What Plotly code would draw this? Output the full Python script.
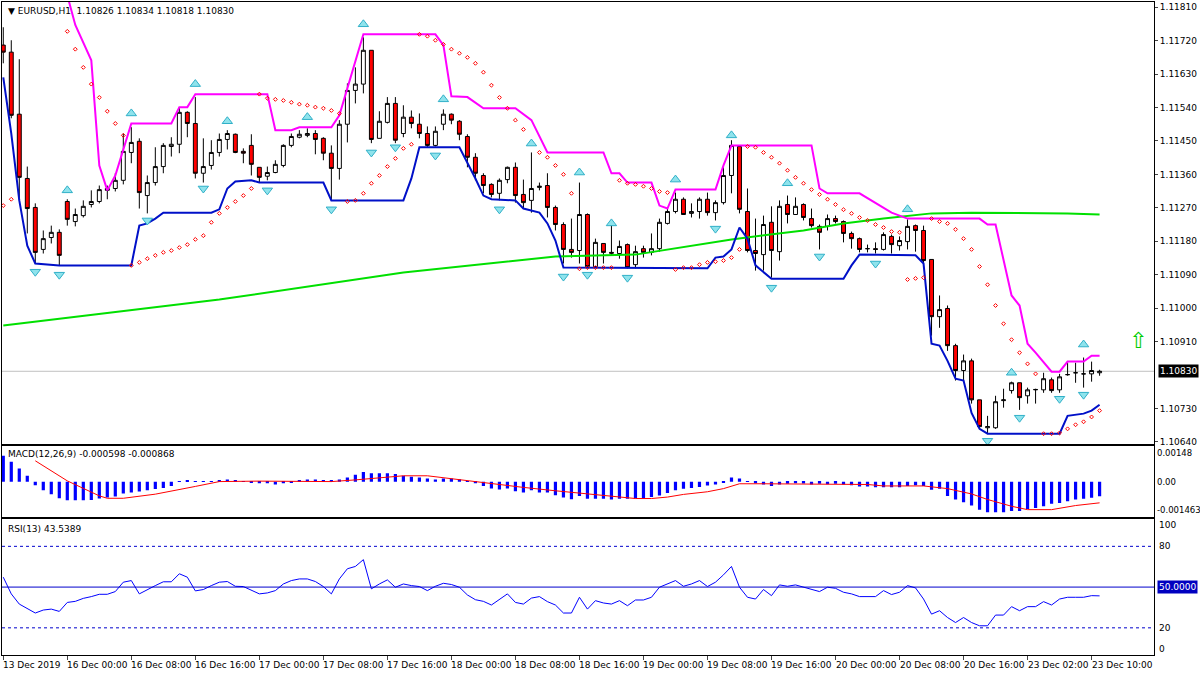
import plotly.graph_objects as go

opens = [1.11708,1.11689,1.11522,1.11349,1.11271,1.11158,1.11190,1.11204,1.11287,1.11233,
1.11249,1.11279,1.11287,1.11317,1.11322,1.11344,1.11419,1.11449,1.11303,1.11338,
1.11381,1.11435,1.11441,1.11527,1.11497,1.11363,1.11384,1.11419,1.11454,1.11468,
1.11422,1.11438,1.11379,1.11355,1.11365,1.11384,1.11438,1.11460,1.11465,1.11470,
1.11457,1.11417,1.11376,1.11495,1.11586,1.11603,1.11694,1.11457,1.11500,1.11551,
1.11470,1.11514,1.11495,1.11470,1.11438,1.11495,1.11522,1.11503,1.11462,1.11406,
1.11357,1.11333,1.11309,1.11346,1.11379,1.11306,1.11290,1.11325,1.11330,1.11271,
1.11225,1.11158,1.11155,1.11252,1.11112,1.11174,1.11150,1.11147,1.11171,1.11117,
1.11160,1.11150,1.11160,1.11228,1.11260,1.11293,1.11255,1.11260,1.11293,1.11257,
1.11284,1.11357,1.11435,1.11260,1.11155,1.11144,1.11231,1.11152,1.11279,1.11252,
1.11279,1.11241,1.11220,1.11220,1.11241,1.11233,1.11201,1.11187,1.11160,1.11160,
1.11158,1.11193,1.11168,1.11179,1.11222,1.11209,1.11131,1.10977,1.10999,1.10899,
1.10832,1.10858,1.10753,1.10678,1.10678,1.10751,1.10778,1.10799,1.10764,1.10780,
1.10780,1.10807,1.10780,1.10821,1.10826,1.10823,1.10823,1.10826]
highs = [1.11756,1.11721,1.11670,1.11381,1.11282,1.11209,1.11222,1.11212,1.11293,1.11268,
1.11290,1.11317,1.11330,1.11330,1.11363,1.11470,1.11487,1.11457,1.11357,1.11433,
1.11444,1.11460,1.11541,1.11530,1.11568,1.11457,1.11452,1.11470,1.11479,1.11470,
1.11430,1.11468,1.11379,1.11381,1.11398,1.11441,1.11470,1.11479,1.11484,1.11479,
1.11460,1.11438,1.11506,1.11605,1.11648,1.11729,1.11694,1.11530,1.11568,1.11568,
1.11546,1.11532,1.11524,1.11489,1.11489,1.11535,1.11524,1.11506,1.11468,1.11417,
1.11363,1.11336,1.11349,1.11381,1.11392,1.11346,1.11419,1.11338,1.11363,1.11276,
1.11231,1.11241,1.11338,1.11255,1.11187,1.11174,1.11228,1.11182,1.11174,1.11168,
1.11168,1.11201,1.11241,1.11268,1.11311,1.11298,1.11282,1.11298,1.11311,1.11290,
1.11379,1.11452,1.11435,1.11322,1.11241,1.11249,1.11274,1.11290,1.11303,1.11298,
1.11282,1.11268,1.11225,1.11252,1.11249,1.11236,1.11206,1.11190,1.11171,1.11177,
1.11204,1.11198,1.11193,1.11239,1.11225,1.11222,1.11131,1.11034,1.11007,1.10904,
1.10875,1.10864,1.10753,1.10710,1.10764,1.10783,1.10802,1.10799,1.10786,1.10783,
1.10826,1.10813,1.10823,1.10853,1.10853,1.10867,1.10856,1.10834]
lows = [1.11659,1.11511,1.11290,1.11201,1.11120,1.11147,1.11174,1.11115,1.11222,1.11220,
1.11244,1.11271,1.11282,1.11293,1.11314,1.11333,1.11390,1.11268,1.11255,1.11330,
1.11363,1.11408,1.11417,1.11460,1.11349,1.11338,1.11373,1.11408,1.11427,1.11417,
1.11390,1.11357,1.11338,1.11344,1.11363,1.11379,1.11433,1.11457,1.11460,1.11414,
1.11398,1.11290,1.11346,1.11446,1.11551,1.11578,1.11444,1.11457,1.11497,1.11444,
1.11460,1.11484,1.11457,1.11433,1.11435,1.11479,1.11495,1.11452,1.11379,1.11344,
1.11309,1.11298,1.11290,1.11336,1.11284,1.11268,1.11257,1.11317,1.11244,1.11209,
1.11120,1.11136,1.11120,1.11107,1.11109,1.11120,1.11142,1.11133,1.11107,1.11107,
1.11136,1.11142,1.11152,1.11225,1.11255,1.11252,1.11244,1.11241,1.11249,1.11236,
1.11279,1.11309,1.11255,1.11150,1.11101,1.11101,1.11082,1.11128,1.11228,1.11252,
1.11236,1.11217,1.11158,1.11209,1.11228,1.11177,1.11160,1.11150,1.11150,1.11147,
1.11155,1.11147,1.11155,1.11158,1.11152,1.11120,1.10926,1.10947,1.10885,1.10805,
1.10805,1.10743,1.10675,1.10662,1.10675,1.10732,1.10770,1.10726,1.10743,1.10743,
1.10772,1.10772,1.10772,1.10818,1.10799,1.10786,1.10802,1.10818]
closes = [1.11689,1.11519,1.11352,1.11268,1.11150,1.11187,1.11204,1.11142,1.11239,1.11252,
1.11274,1.11287,1.11319,1.11322,1.11344,1.11422,1.11446,1.11311,1.11338,1.11381,
1.11438,1.11441,1.11527,1.11497,1.11363,1.11381,1.11419,1.11454,1.11470,1.11419,
1.11417,1.11387,1.11352,1.11365,1.11387,1.11438,1.11462,1.11468,1.11470,1.11454,
1.11417,1.11376,1.11495,1.11586,1.11603,1.11694,1.11454,1.11503,1.11551,1.11452,
1.11514,1.11497,1.11470,1.11438,1.11476,1.11522,1.11506,1.11468,1.11406,1.11363,
1.11330,1.11306,1.11344,1.11379,1.11303,1.11284,1.11322,1.11328,1.11271,1.11225,
1.11158,1.11150,1.11252,1.11112,1.11177,1.11150,1.11148,1.11166,1.11109,1.11152,
1.11150,1.11160,1.11231,1.11260,1.11293,1.11252,1.11260,1.11293,1.11257,1.11284,
1.11357,1.11438,1.11266,1.11155,1.11147,1.11225,1.11155,1.11274,1.11252,1.11274,
1.11244,1.11222,1.11204,1.11241,1.11233,1.11201,1.11187,1.11158,1.11160,1.11158,
1.11198,1.11171,1.11182,1.11220,1.11209,1.11128,1.10977,1.10996,1.10899,1.10832,
1.10858,1.10753,1.10681,1.10681,1.10748,1.10753,1.10799,1.10759,1.10780,1.10781,
1.10810,1.10778,1.10815,1.10821,1.10826,1.10823,1.10832,1.10830]

upper_idx = [8,9,11,12,13,14,16,21,22,23,24,33,34,36,37,41,42,45,54,55,56,58,60,64,66,68,75,76,77,78,81,82,83,84,89,90,91,101,102,103,107,111,113,122,123,124,126,127,128,129,131,132,133,135,136,137]
upper_val = [1.11842,1.11762,1.11667,1.11384,1.11317,1.11357,1.11497,1.11497,1.11541,1.11541,1.11576,1.11576,1.11479,1.11479,1.11487,1.11487,1.11519,1.11737,1.11737,1.11708,1.11570,1.11568,1.11538,1.11538,1.11506,1.11419,1.11419,1.11363,1.11363,1.11338,1.11338,1.11276,1.11268,1.11319,1.11319,1.11384,1.11438,1.11438,1.11322,1.11309,1.11309,1.11257,1.11241,1.11241,1.11225,1.11225,1.11034,1.11007,1.10904,1.10880,1.10829,1.10829,1.10856,1.10856,1.10872,1.10872]
lower_idx = [0,1,2,3,4,7,16,17,18,19,20,26,27,28,29,31,32,40,41,50,51,52,57,58,59,60,61,64,65,67,68,69,70,88,89,90,91,92,93,94,95,96,105,106,107,114,115,116,117,118,119,120,121,122,123,132,133,135,136,137]
lower_val = [1.11621,1.11470,1.11290,1.11168,1.11120,1.11115,1.11115,1.11222,1.11228,1.11241,1.11257,1.11257,1.11266,1.11322,1.11341,1.11344,1.11338,1.11338,1.11290,1.11290,1.11349,1.11433,1.11433,1.11392,1.11349,1.11303,1.11293,1.11290,1.11268,1.11257,1.11228,1.11182,1.11109,1.11107,1.11136,1.11139,1.11158,1.11217,1.11187,1.11115,1.11096,1.11079,1.11079,1.11115,1.11144,1.11142,1.11120,1.10904,1.10899,1.10858,1.10810,1.10805,1.10718,1.10675,1.10662,1.10662,1.10710,1.10716,1.10724,1.10740]
ma_idx = [0,12,27,50,69,79,91,100,105,110,116,121,133,137]
ma_val = [1.10953,1.10985,1.11023,1.11096,1.11139,1.11144,1.11185,1.11209,1.11228,1.11241,1.11255,1.11257,1.11255,1.11252]

sar = [1.11276,1.11293,None,None,None,None,None,None,1.11745,1.11697,
1.11648,1.11603,1.11567,1.11530,1.11497,1.11465,1.11115,1.11123,1.11133,1.11142,
1.11150,1.11155,1.11163,1.11171,1.11185,1.11195,1.11231,1.11255,1.11271,1.11287,
1.11303,1.11322,1.11576,1.11565,1.11562,1.11559,1.11554,1.11549,1.11546,1.11541,
1.11538,1.11532,1.11524,1.11287,1.11290,1.11309,1.11336,1.11357,1.11381,1.11403,
1.11430,1.11441,1.11737,1.11732,1.11721,1.11710,1.11697,1.11686,1.11675,1.11659,
1.11635,1.11600,1.11567,1.11538,1.11506,1.11481,1.11446,1.11419,1.11406,1.11384,
1.11360,1.11309,1.11106,1.11109,1.11109,1.11109,1.11109,1.11344,1.11336,1.11333,
1.11328,1.11322,1.11314,1.11311,1.11104,1.11109,1.11109,1.11117,1.11123,1.11125,
1.11128,1.11136,1.11158,1.11435,1.11433,1.11419,1.11406,1.11390,1.11371,1.11352,
1.11336,1.11319,1.11306,1.11293,1.11279,1.11265,1.11255,1.11244,1.11236,1.11225,
1.11217,1.11206,1.11204,1.11077,1.11080,1.11082,1.11241,1.11233,1.11228,1.11212,
1.11187,1.11158,1.11112,1.11063,1.11007,1.10958,1.10915,1.10880,1.10850,1.10823,
1.10662,1.10662,1.10664,1.10675,1.10686,1.10694,1.10707,1.10724]

frac_up_idx = [8,16,24,28,38,45,55,66,72,76,84,91,98,113,126,135]
frac_up_val = [1.11317,1.11524,1.11603,1.11503,1.11514,1.11764,1.11562,1.11443,1.11365,1.11228,1.11346,1.11465,1.11336,1.11266,1.10826,1.10902]
frac_dn_idx = [4,7,18,25,33,41,46,49,54,62,70,73,78,89,96,102,109,123,127,132,135]
frac_dn_val = [1.11098,1.11090,1.11236,1.11322,1.11317,1.11266,1.11419,1.11433,1.11411,1.11266,1.11085,1.11090,1.11082,1.11214,1.11055,1.11139,1.11120,1.10643,1.10705,1.10756,1.10767]

macd_hist = [0.00108,0.00083,0.00055,0.00025,-0.00014,-0.00035,-0.00051,-0.00068,-0.00076,-0.00076,
-0.00076,-0.00075,-0.00069,-0.00065,-0.00061,-0.00048,-0.00044,-0.00040,-0.00035,-0.00030,
-0.00026,-0.00017,0.00002,0.00004,0.00001,0.00001,0.00003,0.00007,0.00010,0.00008,
0.00003,-0.00001,-0.00006,-0.00006,-0.00011,-0.00006,-0.00001,0.00007,0.00010,0.00010,
0.00008,0.00006,0.00010,0.00018,0.00029,0.00041,0.00035,0.00035,0.00035,0.00032,
0.00025,0.00021,0.00018,0.00014,0.00010,0.00014,0.00014,0.00011,0.00002,-0.00006,
-0.00017,-0.00028,-0.00032,-0.00028,-0.00039,-0.00044,-0.00035,-0.00044,-0.00044,-0.00055,
-0.00065,-0.00072,-0.00059,-0.00070,-0.00070,-0.00070,-0.00073,-0.00070,-0.00070,-0.00069,
-0.00069,-0.00063,-0.00057,-0.00046,-0.00035,-0.00029,-0.00025,-0.00021,-0.00015,-0.00011,
-0.00001,0.00018,0.00014,0.00001,-0.00006,-0.00011,-0.00017,-0.00011,-0.00008,-0.00006,
-0.00007,-0.00011,-0.00008,-0.00010,-0.00008,-0.00011,-0.00014,-0.00019,-0.00019,-0.00022,
-0.00022,-0.00022,-0.00022,-0.00017,-0.00014,-0.00017,-0.00033,-0.00029,-0.00059,-0.00073,
-0.00084,-0.00098,-0.00115,-0.00126,-0.00126,-0.00126,-0.00121,-0.00121,-0.00112,-0.00108,
-0.00101,-0.00091,-0.00087,-0.00080,-0.00073,-0.00070,-0.00066,-0.000598]
sig_idx = [4,8,12,13,15,19,24,27,32,41,44,47,50,53,57,61,65,69,73,76,79,81,83,85,88,90,92,95,101,108,110,115,118,121,123,126,128,131,134,137]
sig_val = [0.00087,0.00004,-0.00058,-0.00068,-0.00068,-0.00051,-0.00019,0.00001,0.00003,0.00001,0.00008,0.00018,0.00025,0.00025,0.00008,-0.00006,-0.00023,-0.00037,-0.00050,-0.00059,-0.00069,-0.00069,-0.00063,-0.00052,-0.00041,-0.00028,-0.00008,-0.00008,-0.00008,-0.00011,-0.00017,-0.00017,-0.00028,-0.00050,-0.00073,-0.00101,-0.00115,-0.00115,-0.00098,-0.000868]

rsi = [57.3,45.0,37.5,34.1,30.9,33.1,33.8,32.1,38.7,39.5,
41.7,43.0,44.7,44.7,46.7,53.6,54.8,45.0,48.2,51.1,
53.9,53.9,59.8,57.3,47.2,48.2,51.1,53.6,54.1,50.6,
50.4,47.4,45.0,45.7,47.4,52.3,54.8,56.0,56.0,54.1,
50.4,45.0,56.0,63.5,65.2,70.2,48.7,52.3,55.3,49.9,
52.3,51.1,50.4,47.4,50.6,52.8,51.9,49.9,44.2,40.7,
39.5,36.8,41.2,45.0,38.7,37.5,41.9,43.0,39.3,36.8,
30.9,30.9,42.5,33.8,40.0,38.3,37.5,40.0,36.3,40.5,
40.5,42.5,49.9,52.3,54.8,50.6,52.3,54.8,50.4,53.6,
59.0,65.2,49.9,42.5,41.2,48.2,43.7,51.6,50.6,51.6,
49.9,48.2,46.7,49.9,49.1,46.2,45.0,43.0,43.0,43.0,
47.4,44.5,46.2,51.1,49.4,41.2,30.1,32.6,27.6,23.9,
27.6,23.9,21.5,21.5,29.4,29.4,35.6,32.6,35.6,35.6,
39.3,36.8,41.2,42.5,42.5,42.5,43.7,43.54]

time_labels = ["13 Dec 2019","16 Dec 00:00","16 Dec 08:00","16 Dec 16:00","17 Dec 00:00","17 Dec 08:00",
"17 Dec 16:00","18 Dec 00:00","18 Dec 08:00","18 Dec 16:00","19 Dec 00:00","19 Dec 08:00",
"19 Dec 16:00","20 Dec 00:00","20 Dec 08:00","20 Dec 16:00","23 Dec 02:00","23 Dec 10:00"]
time_pos = [0,8,16,24,32,40,48,56,64,72,80,88,96,104,112,120,128,136]
price_ticks = [1.11810,1.11720,1.11630,1.11540,1.11450,1.11360,1.11270,1.11180,1.11090,1.11000,1.10910,1.10730,1.10640]
macd_labels = ["0.00148", "0.00", "-0.001463"]
macd_levels = [0.00148, 0.0, -0.001463]
rsi_ticks = [100, 80, 20, 0]
last_price = 1.10830

idx = list(range(len(closes)))
FONT = "DejaVu Sans"
fig = go.Figure()
fig.add_trace(go.Scatter(x=ma_idx, y=ma_val, mode="lines", line=dict(color="#00e000", width=2), hoverinfo="skip"))
fig.add_trace(go.Scatter(x=upper_idx, y=upper_val, mode="lines", line=dict(color="#ff00ff", width=2), hoverinfo="skip"))
fig.add_trace(go.Scatter(x=lower_idx, y=lower_val, mode="lines", line=dict(color="#0010c8", width=2), hoverinfo="skip"))
fig.add_trace(go.Candlestick(x=idx, open=opens, high=highs, low=lows, close=closes,
    increasing=dict(line=dict(color="black", width=1), fillcolor="white"),
    decreasing=dict(line=dict(color="black", width=1), fillcolor="#ff0000"),
    whiskerwidth=0, hoverinfo="skip"))
fig.add_trace(go.Scatter(x=idx, y=sar, mode="markers", marker=dict(symbol="diamond-open", size=3, color="red", line=dict(width=1)), hoverinfo="skip"))
fig.add_trace(go.Scatter(x=frac_up_idx, y=frac_up_val, mode="markers", marker=dict(symbol="triangle-up", size=9, color="#8fe3ec", line=dict(color="#30b0c8", width=1)), hoverinfo="skip"))
fig.add_trace(go.Scatter(x=frac_dn_idx, y=frac_dn_val, mode="markers", marker=dict(symbol="triangle-down", size=9, color="#8fe3ec", line=dict(color="#30b0c8", width=1)), hoverinfo="skip"))
fig.add_trace(go.Bar(x=idx, y=macd_hist, marker=dict(color="#0000ff", line=dict(width=0)), width=0.4, xaxis="x2", yaxis="y2", hoverinfo="skip"))
fig.add_trace(go.Scatter(x=sig_idx, y=sig_val, mode="lines", line=dict(color="red", width=1), xaxis="x2", yaxis="y2", hoverinfo="skip"))
fig.add_trace(go.Scatter(x=idx, y=rsi, mode="lines", line=dict(color="#0000ff", width=1), xaxis="x3", yaxis="y3", hoverinfo="skip"))

xr = [-0.16, 143.8]
ax = dict(range=xr, showgrid=False, zeroline=False, showline=True, mirror=True, linecolor="black", linewidth=1, fixedrange=True)
yax = dict(side="right", showgrid=False, zeroline=False, showline=True, mirror=True, linecolor="black", fixedrange=True)
fig.update_layout(
    width=1200, height=675, margin=dict(l=2, r=46, t=2, b=20),
    paper_bgcolor="white", plot_bgcolor="white", showlegend=False,
    font=dict(family=FONT, size=9, color="black"),
    xaxis=dict(ax, domain=[0,1], anchor="y", showticklabels=False, ticks="", rangeslider=dict(visible=False)),
    xaxis2=dict(ax, domain=[0,1], anchor="y2", showticklabels=False, ticks="", matches="x"),
    xaxis3=dict(ax, domain=[0,1], anchor="y3", tickvals=time_pos, ticktext=[""]*len(time_pos), ticks="outside", ticklen=4, matches="x"),
    yaxis=dict(yax, domain=[0.323,1], range=[1.10634,1.11824], tickvals=price_ticks, tickformat=".5f", ticks="outside", ticklen=3),
    yaxis2=dict(yax, domain=[0.211,0.320], range=[-0.001463,0.00148], showticklabels=False, anchor="x2"),
    yaxis3=dict(yax, domain=[0,0.208], range=[0,100], showticklabels=False, anchor="x3"),
)
fig.add_shape(type="line", xref="x", yref="y", x0=xr[0], x1=xr[1], y0=last_price, y1=last_price, line=dict(color="#c0c0c0", width=1), layer="below")
for lv, dash in [(80, "3px,3px"), (20, "3px,3px"), (50, "solid")]:
    fig.add_shape(type="line", xref="x3", yref="y3", x0=xr[0], x1=xr[1], y0=lv, y1=lv, line=dict(color="#0000cc", width=1, dash=dash))
for p, t in zip(time_pos, time_labels):
    fig.add_annotation(x=p, y=0, xref="x3", yref="paper", text=t, showarrow=False, xanchor="left", yanchor="top", yshift=-3, xshift=-2, font=dict(size=9))
shifts_m = [-7, 0, 7]
for lv, t, s in zip(macd_levels, macd_labels, shifts_m):
    fig.add_annotation(x=1, y=lv, xref="paper", yref="y2", text=t, showarrow=False, xanchor="left", xshift=1, yshift=s, font=dict(size=8.5))
shifts_r = {100: -6, 80: 0, 20: 0, 0: 6}
for lv in rsi_ticks:
    fig.add_annotation(x=1, y=lv, xref="paper", yref="y3", text=str(lv), showarrow=False, xanchor="left", xshift=3, yshift=shifts_r[lv], font=dict(size=9))
fig.add_annotation(x=1, y=last_price, xref="paper", yref="y", text=f"{last_price:.5f}", showarrow=False, xanchor="left", xshift=4,
                   bgcolor="black", font=dict(color="white", size=9), borderpad=1)
fig.add_annotation(x=1, y=50, xref="paper", yref="y3", text="50.0000", showarrow=False, xanchor="left", xshift=3,
                   bgcolor="#0000c0", font=dict(color="white", size=9), borderpad=1)
fig.add_annotation(x=0, y=1, xref="paper", yref="paper", text="▼ EURUSD,H1  1.10826 1.10834 1.10818 1.10830", showarrow=False,
                   xanchor="left", yanchor="top", xshift=4, yshift=-2, font=dict(size=9))
fig.add_annotation(x=0, y=0.320, xref="paper", yref="paper", text="MACD(12,26,9) -0.000598 -0.000868", showarrow=False,
                   xanchor="left", yanchor="top", xshift=4, yshift=-1, font=dict(size=9))
fig.add_annotation(x=0, y=0.208, xref="paper", yref="paper", text="RSI(13) 43.5389", showarrow=False,
                   xanchor="left", yanchor="top", xshift=4, yshift=-3, font=dict(size=9))
fig.add_annotation(x=141.8, y=1.10912, xref="x", yref="y", text="⇧", showarrow=False, font=dict(size=22, color="#00cc00"))
fig.write_html("out.html", config={"displayModeBar": False},
               post_script="document.body.style.margin='0';document.body.style.overflow='hidden';")
